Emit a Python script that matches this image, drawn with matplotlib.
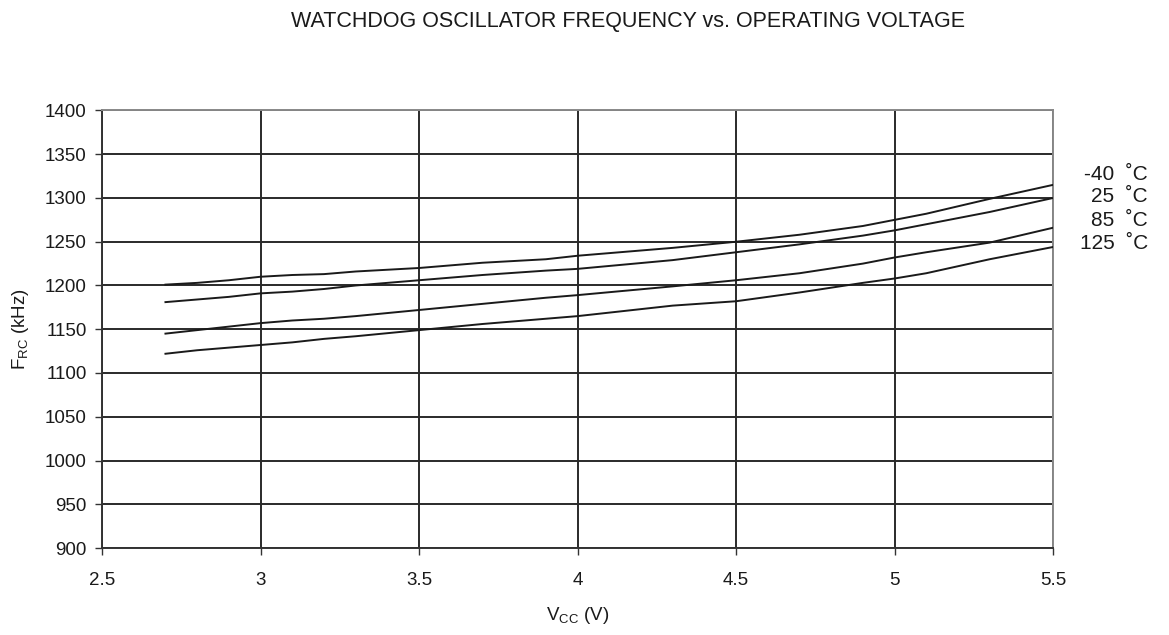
import matplotlib
matplotlib.use("Agg")
import matplotlib.pyplot as plt

plt.rcParams['font.family'] = ['Liberation Sans', 'DejaVu Sans']

vcc = [2.7, 2.8, 2.9, 3.0, 3.1, 3.2, 3.3, 3.5, 3.7, 3.9, 4.0, 4.3, 4.5, 4.7, 4.9, 5.0, 5.1, 5.3, 5.5]
f_m40 = [1201, 1203, 1206, 1210, 1212, 1213, 1216, 1220, 1226, 1230, 1234, 1243, 1250, 1258, 1268, 1275, 1282, 1299, 1315]
f_25 = [1181, 1184, 1187, 1191, 1193, 1196, 1200, 1206, 1212, 1217, 1219, 1229, 1238, 1247, 1257, 1263, 1270, 1284, 1300]
f_85 = [1145, 1149, 1153, 1157, 1160, 1162, 1165, 1172, 1179, 1186, 1189, 1199, 1206, 1214, 1225, 1232, 1238, 1249, 1266]
f_125 = [1122, 1126, 1129, 1132, 1135, 1139, 1142, 1149, 1156, 1162, 1165, 1177, 1182, 1192, 1203, 1208, 1214, 1230, 1244]
series_labels = ['-40  ˚C', '25  ˚C', '85  ˚C', '125  ˚C']
xticks = [2.5, 3, 3.5, 4, 4.5, 5, 5.5]
xtick_labels = ['2.5', '3', '3.5', '4', '4.5', '5', '5.5']
yticks = list(range(900, 1401, 50))

fig = plt.figure(figsize=(11.69, 6.35), dpi=100)
ax = fig.add_axes([0.0873, 0.137, 0.8135, 0.689])

for ys in (f_m40, f_25, f_85, f_125):
    ax.plot(vcc, ys, color='#1a1a1a', lw=1.4, zorder=3)

ax.set_xlim(2.5, 5.5)
ax.set_ylim(900, 1400)
ax.set_xticks(xticks)
ax.set_xticklabels(xtick_labels)
ax.set_yticks(yticks)
ax.grid(True, color='#2a2a2a', lw=1.4)
ax.tick_params(direction='out', length=5, width=1, colors='#333333', labelcolor='#1a1a1a', labelsize=13.5, pad=6)
ax.tick_params(axis='x', pad=12)
for s in ['left', 'bottom']:
    ax.spines[s].set_color('#333333')
    ax.spines[s].set_linewidth(1.4)
for s in ['right', 'top']:
    ax.spines[s].set_color('#888888')
    ax.spines[s].set_linewidth(1.4)

label_y = [175, 197, 221, 244]
for lab, yp in zip(series_labels, label_y):
    fig.text(1148/1169, 1 - yp/635, lab, ha='right', va='center', fontsize=15, color='#1a1a1a')

fig.text(628/1169, 1 - 22/635, 'WATCHDOG OSCILLATOR FREQUENCY vs. OPERATING VOLTAGE', ha='center', va='center', fontsize=15.5, color='#1a1a1a')
ax.set_xlabel('V$_{\\mathregular{CC}}$ (V)', fontsize=13.5, labelpad=12, color='#1a1a1a')
ax.set_ylabel('F$_{\\mathregular{RC}}$ (kHz)', fontsize=13.5, labelpad=10, color='#1a1a1a')

fig.savefig('out.png', dpi=100, facecolor='white')
